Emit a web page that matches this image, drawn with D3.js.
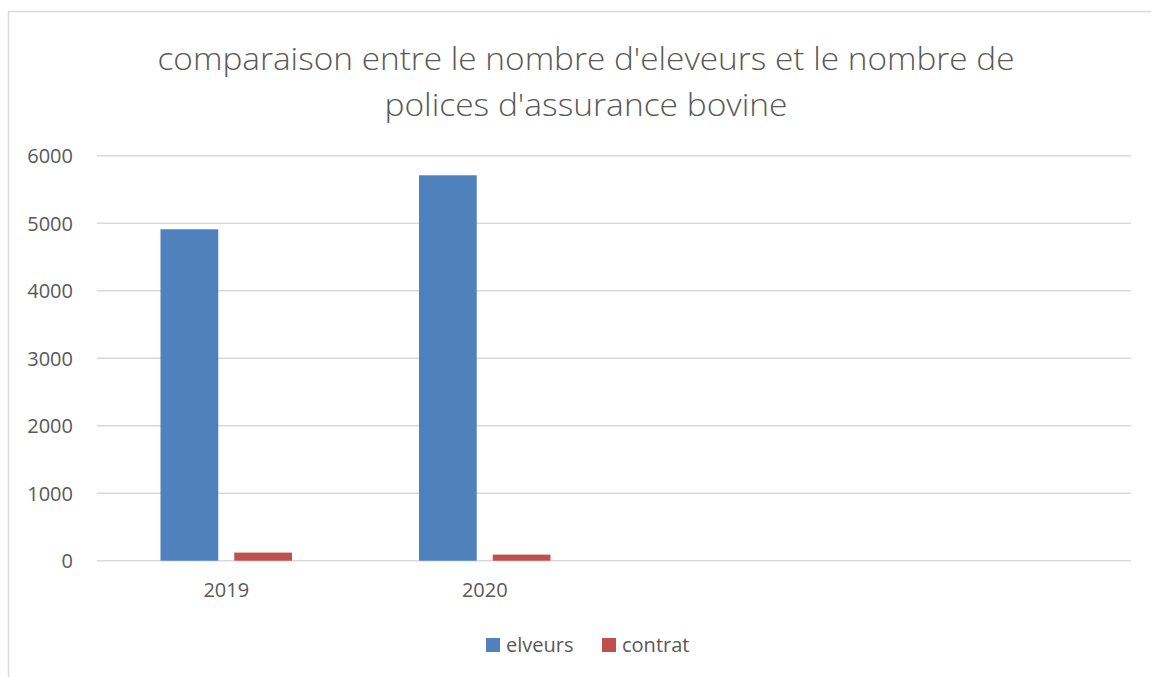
<!DOCTYPE html>
<html lang="fr">
<head>
    <meta charset="UTF-8">
    <title>comparaison eleveurs / polices</title>
    <style>
        body { margin: 0; background: #fff; }
        text { font-family: "Open Sans", "Liberation Sans", sans-serif; fill: #595959; }
        .axis path, .axis line { display: none; }
    </style>
    <script src="https://cdn.jsdelivr.net/npm/d3@7"></script>
</head>
<body>
<svg class="chart" width="1151" height="677"></svg>
<script>
    // données
    const categories = ["2019", "2020", "", ""];
    const seriesNames = ["elveurs", "contrat"];
    const elveurs = [4910, 5710];
    const contrat = [120, 90];
    const yTicks = [0, 1000, 2000, 3000, 4000, 5000, 6000];
    const colors = ["#4f81bd", "#c0504d"];

    const svg = d3.select('.chart');
    const plot = {left: 97, right: 1131, top: 155.7, bottom: 560.7};

    // cadre de la zone graphique
    svg.append('path')
        .attr('d', 'M8.5,677 V11.5 H1151')
        .attr('fill', 'none')
        .attr('stroke', '#d9d9d9')
        .attr('stroke-width', 1.5);

    // titre (2 lignes)
    const titleLines = [
        {t: "comparaison entre le nombre d'eleveurs et le nombre de", y: 70, w: 857},
        {t: "polices d'assurance bovine", y: 116, w: 403}
    ];
    svg.append('g').selectAll('text')
        .data(titleLines).enter().append('text')
        .attr('x', 586).attr('y', d => d.y)
        .attr('text-anchor', 'middle')
        .attr('textLength', d => d.w)
        .attr('lengthAdjust', 'spacingAndGlyphs')
        .style('font-size', '32px')
        .style('font-weight', 300)
        .text(d => d.t);

    let x = d3.scaleBand().domain(d3.range(categories.length)).range([plot.left, plot.right]);
    let x1 = d3.scaleBand().domain(seriesNames)
        .range([63.5, x.bandwidth() - 63.5])
        .paddingInner(0.217);
    let y = d3.scaleLinear().domain([0, 6000]).range([plot.bottom, plot.top]);

    // grille
    svg.append('g').selectAll('line')
        .data(yTicks).enter().append('line')
        .attr('x1', plot.left).attr('x2', plot.right)
        .attr('y1', d => y(d)).attr('y2', d => y(d))
        .attr('stroke', '#d9d9d9')
        .attr('stroke-width', 1.5);

    // axe y
    svg.append('g')
        .attr('class', 'axis')
        .attr('transform', 'translate(' + (plot.left - 14) + ',0)')
        .call(d3.axisLeft(y).tickValues(yTicks).tickFormat(d3.format('d')).tickSize(0).tickPadding(10))
        .selectAll('text')
        .style('font-size', '20px')
        .attr('dy', '0.35em');

    // axe x
    svg.append('g')
        .attr('class', 'axis')
        .attr('transform', 'translate(0,' + plot.bottom + ')')
        .call(d3.axisBottom(x).tickFormat(i => categories[i]).tickSize(0).tickPadding(22))
        .selectAll('text')
        .style('font-size', '20px');

    // barres
    const values = {elveurs: elveurs, contrat: contrat};
    seriesNames.forEach((s, k) => {
        svg.append('g').selectAll('rect')
            .data(values[s]).enter().append('rect')
            .attr('x', (d, i) => x(i) + x1(s))
            .attr('width', x1.bandwidth())
            .attr('y', d => y(d))
            .attr('height', d => y(0) - y(d))
            .attr('fill', colors[k]);
    });

    // légende
    const legend = svg.append('g').attr('transform', 'translate(486,645)');
    const lx = [0, 116];
    seriesNames.forEach((s, k) => {
        legend.append('rect')
            .attr('x', lx[k]).attr('y', -7)
            .attr('width', 14).attr('height', 14)
            .attr('fill', colors[k]);
        legend.append('text')
            .attr('x', lx[k] + 20).attr('y', 0)
            .attr('dy', '0.35em')
            .style('font-size', '20px')
            .text(s);
    });
</script>
</body>
</html>
